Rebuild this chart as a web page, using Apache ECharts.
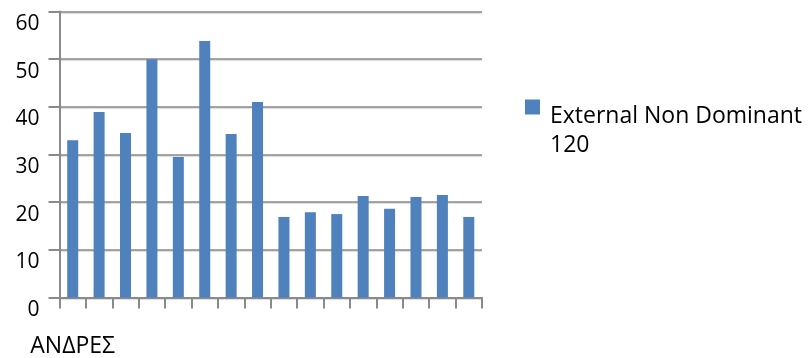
<!DOCTYPE html>
<html>
<head>
<meta charset="utf-8">
<script src="https://cdn.jsdelivr.net/npm/echarts@6/dist/echarts.min.js"></script>
<style>
  html, body { margin: 0; padding: 0; background: #fff; }
  #chart { width: 808px; height: 358px; }
</style>
</head>
<body>
<div id="chart"></div>
<script>
// Category labels along the x axis (only the first group is named)
const categories = ['ΑΝΔΡΕΣ', '', '', '', '', '', '', '', '', '', '', '', '', '', '', ''];

// Series name and values
const seriesName = 'External Non Dominant 120';
const values = [33.0, 38.9, 34.5, 50.0, 29.5, 53.8, 34.3, 41.0, 16.9, 17.9, 17.5, 21.3, 18.6, 21.1, 21.5, 16.9];

// Value axis range
const yMin = 0;
const yMax = 60;
const yStep = 10;

const FONT = '"Open Sans", "Liberation Sans", sans-serif';
const GRID_GRAY = '#8a8a8a';

const chart = echarts.init(document.getElementById('chart'), null, { renderer: 'canvas' });

chart.setOption({
  animation: false,
  backgroundColor: '#ffffff',
  grid: { left: 59.5, right: 326, top: 11.5, bottom: 60.5, containLabel: false },
  legend: {
    data: [seriesName],
    left: 525,
    top: 73,
    padding: 0,
    orient: 'vertical',
    icon: 'rect',
    itemWidth: 15,
    itemHeight: 15,
    // a blank first row pushes the wrapped name below the marker's level
    formatter: name => '{gap| }\n{t|' + name.replace(' 120', '}\n{t|120}'),
    textStyle: {
      fontFamily: FONT,
      fontSize: 23,
      color: '#000',
      rich: {
        gap: { fontSize: 10, lineHeight: 48, padding: [0, 0, 0, 5] },
        t: { fontFamily: FONT, fontSize: 23, lineHeight: 29, color: '#000', padding: [0, 0, 0, 5] }
      }
    }
  },
  xAxis: {
    type: 'category',
    data: categories,
    boundaryGap: true,
    axisLine: { show: true, lineStyle: { color: GRID_GRAY, width: 2 } },
    axisTick: { show: true, length: 11, interval: 0, lineStyle: { color: GRID_GRAY, width: 2 } },
    axisLabel: {
      interval: 0,
      margin: 37,
      fontFamily: FONT,
      fontSize: 23,
      color: '#000'
    },
    splitLine: { show: false }
  },
  yAxis: {
    type: 'value',
    min: yMin,
    max: yMax,
    interval: yStep,
    axisLine: { show: true, lineStyle: { color: GRID_GRAY, width: 2 } },
    axisTick: { show: true, length: 11, lineStyle: { color: GRID_GRAY, width: 2 } },
    axisLabel: {
      margin: 20,
      fontFamily: FONT,
      fontSize: 21,
      color: '#000',
      verticalAlign: 'top',
      lineHeight: 25
    },
    splitLine: {
      show: true,
      lineStyle: {
        color: GRID_GRAY,
        width: 1.5,
        shadowColor: 'rgba(0,0,0,0.18)',
        shadowOffsetY: 1,
        shadowBlur: 1
      }
    }
  },
  series: [{
    name: seriesName,
    type: 'bar',
    data: values,
    barWidth: 11,
    itemStyle: { color: '#4F81BD' }
  }]
});
</script>
</body>
</html>
